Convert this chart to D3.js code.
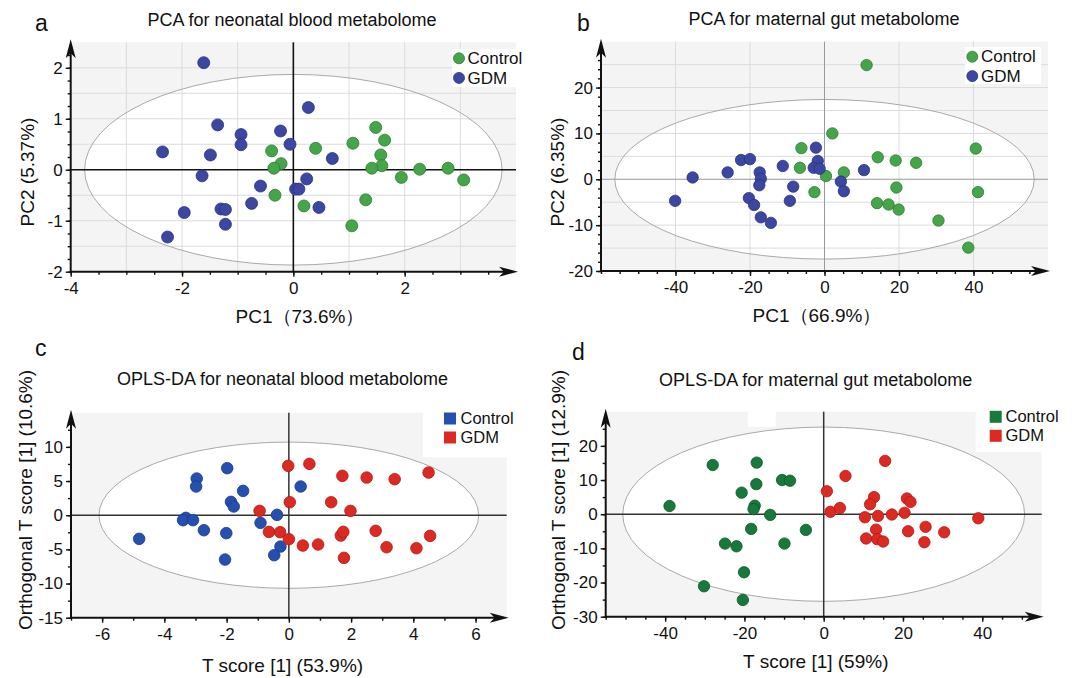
<!DOCTYPE html>
<html><head><meta charset="utf-8">
<script src="https://cdn.jsdelivr.net/npm/d3@7"></script>
<style>
body{margin:0;background:#fff;}
svg{display:block;}
text{font-family:"Liberation Sans",Arial,Helvetica,sans-serif;fill:#111;}
</style>
</head><body>
<svg id="chart" width="1075" height="678"></svg>
<script>
// ---------- DATA ----------
// Panel a: PCA for neonatal blood metabolome  [PC1, PC2]
const pcaBloodControl = [[-0.39,0.37],[-0.22,0.12],[-0.35,0.03],[0.40,0.42],[-0.33,-0.50],[0.19,-0.71],[1.07,0.52],[1.48,0.83],[1.64,0.58],[1.57,0.29],[1.59,0.08],[1.41,0.03],[1.94,-0.15],[2.27,0.01],[2.78,0.03],[3.06,-0.20],[1.30,-0.59],[1.05,-1.10]];
const pcaBloodGDM = [[-1.61,2.10],[0.27,1.22],[-1.36,0.88],[-0.94,0.69],[-0.94,0.49],[-0.23,0.76],[-0.06,0.50],[-2.35,0.35],[-1.49,0.29],[0.70,0.22],[-1.64,-0.12],[-0.59,-0.32],[0.24,-0.18],[0.04,-0.38],[0.10,-0.38],[-0.75,-0.66],[-1.30,-0.77],[-1.22,-0.78],[0.46,-0.74],[-1.96,-0.84],[-1.22,-1.07],[-2.26,-1.32]];
// Panel b: PCA for maternal gut metabolome
const pcaGutControl = [[11.3,24.9],[2.1,10.0],[-6.2,6.8],[-6.6,2.5],[0.4,0.7],[5.2,1.5],[-2.7,-2.8],[14.3,4.8],[19.1,4.1],[24.6,3.6],[40.6,6.7],[41.2,-2.8],[19.3,-1.8],[14.1,-5.2],[17.2,-5.5],[19.9,-6.6],[30.6,-9.0],[38.6,-14.9]];
const pcaGutGDM = [[-2.3,6.9],[-1.8,4.0],[-2.9,2.5],[-1.3,2.3],[-11.2,2.9],[-22.4,4.2],[-20.0,4.4],[-26.0,1.5],[-35.4,0.4],[-17.4,1.5],[-17.1,0.1],[-17.5,-1.3],[-8.4,-1.6],[4.4,-0.5],[10.6,2.0],[5.2,-2.6],[-40.1,-4.7],[-20.3,-4.1],[-18.9,-5.6],[-9.3,-4.7],[-17.1,-8.3],[-14.4,-9.5]];
// Panel c: OPLS-DA for neonatal blood metabolome  [T score, Orthogonal T score]
const oplsBloodControl = [[-1.98,6.88],[-2.96,5.37],[-2.98,4.20],[-1.47,3.56],[-1.86,1.95],[-1.77,1.27],[0.38,4.20],[-0.38,0.05],[-3.31,-0.39],[-3.40,-0.73],[-3.08,-0.73],[-2.73,-2.20],[-2.01,-2.63],[-0.91,-1.12],[-4.81,-3.46],[-0.27,-4.59],[-0.47,-5.85],[-2.05,-6.49]];
const oplsBloodGDM = [[-0.02,7.22],[0.66,7.51],[1.72,5.76],[2.50,5.51],[3.40,5.27],[4.49,6.24],[0.03,1.90],[1.36,1.90],[1.98,0.63],[-0.94,0.63],[-0.64,-2.44],[-0.28,-2.49],[0.00,-3.51],[0.45,-4.44],[0.94,-4.29],[1.67,-2.98],[1.75,-2.44],[2.79,-2.29],[3.14,-4.68],[4.10,-4.83],[4.54,-3.02],[1.77,-6.24]];
// Panel d: OPLS-DA for maternal gut metabolome
const oplsGutControl = [[-28.0,14.4],[-16.9,15.1],[-10.5,10.0],[-8.5,9.8],[-17.0,8.8],[-20.7,6.3],[-38.9,2.4],[-17.4,2.5],[-17.7,1.5],[-13.5,-0.2],[-18.3,-4.3],[-4.5,-4.6],[-24.9,-8.6],[-22.0,-9.4],[-9.9,-8.6],[-20.1,-17.0],[-30.2,-21.1],[-20.4,-25.1]];
const oplsGutGDM = [[15.5,15.6],[5.5,11.2],[0.8,6.7],[12.7,5.0],[11.7,2.9],[21.0,4.6],[21.9,3.6],[1.7,0.7],[4.1,1.8],[10.4,-0.9],[13.7,-0.5],[17.2,-0.1],[20.4,0.4],[39.0,-1.2],[25.7,-3.7],[13.2,-4.5],[21.3,-5.0],[30.4,-5.3],[10.7,-7.1],[13.5,-7.3],[15.0,-8.0],[25.4,-8.2]];

// Hotelling T2 ellipse semi-axes [x, y]
const ellipseA = [3.75, 1.87];
const ellipseB = [56.3, 17.4];
const ellipseC = [6.1, 10.7];
const ellipseD = [50.7, 25.5];

// Tick labels
const ticksAX = [-4,-2,0,2],       ticksAY = [-2,-1,0,1,2];
const ticksBX = [-40,-20,0,20,40], ticksBY = [-20,-10,0,10,20];
const ticksCX = [-6,-4,-2,0,2,4,6], ticksCY = [-15,-10,-5,0,5,10];
const ticksDX = [-40,-20,0,20,40], ticksDY = [-30,-20,-10,0,10,20];

// Titles / labels
const titles = ["PCA for neonatal blood metabolome","PCA for maternal gut metabolome","OPLS-DA for neonatal blood metabolome","OPLS-DA for maternal gut metabolome"];
const xTitles = ["PC1（73.6%）","PC1（66.9%）","T score [1] (53.9%)","T score [1] (59%)"];
const yTitles = ["PC2 (5.37%)","PC2 (6.35%)","Orthogonal T score [1] (10.6%)","Orthogonal T score [1] (12.9%)"];
const groups = ["Control","GDM"];

// ---------- STYLE ----------
const COL = {
  green:  {fill:"#45a649", stroke:"#2f7a34"},
  indigo: {fill:"#3b47a0", stroke:"#283482"},
  blue:   {fill:"#2550b0", stroke:"#1a3a86"},
  red:    {fill:"#dc2a22", stroke:"#ad1b16"},
  dgreen: {fill:"#17793a", stroke:"#0e5727"}
};

const svg = d3.select("#chart");

function drawPanel(p){
  const g = svg.append("g");
  const B = p.box;
  const x = d3.scaleLinear().domain(p.xDomain).range([B.l, B.r]);
  const y = d3.scaleLinear().domain(p.yDomain).range([B.b, B.t]);

  // background
  g.append("rect").attr("x",B.l).attr("y",B.t).attr("width",B.r-B.l).attr("height",B.b-B.t).attr("fill","#f4f4f4");
  (p.cutouts||[]).forEach(c=>{
    g.append("rect").attr("x",c[0]).attr("y",c[1]).attr("width",c[2]).attr("height",c[3]).attr("fill","#fff");
  });
  // ellipse fill
  const ecx = x(0), ecy = y(0), erx = x(p.ellipse[0])-x(0), ery = y(0)-y(p.ellipse[1]);
  g.append("ellipse").attr("cx",ecx).attr("cy",ecy).attr("rx",erx).attr("ry",ery).attr("fill","#fff");
  // grid
  (p.gridX||[]).forEach(v=>g.append("line").attr("x1",x(v)).attr("x2",x(v)).attr("y1",B.t).attr("y2",B.b).attr("stroke","#dcdcdc").attr("stroke-width",1));
  (p.gridY||[]).forEach(v=>g.append("line").attr("y1",y(v)).attr("y2",y(v)).attr("x1",B.l).attr("x2",B.r).attr("stroke","#dcdcdc").attr("stroke-width",1));
  // ellipse outline
  g.append("ellipse").attr("cx",ecx).attr("cy",ecy).attr("rx",erx).attr("ry",ery).attr("fill","none").attr("stroke","#a9a9a9").attr("stroke-width",1);
  // zero lines
  g.append("line").attr("x1",x(0)).attr("x2",x(0)).attr("y1",B.t).attr("y2",B.b).attr("stroke",p.zeroColor).attr("stroke-width",p.zeroWidth);
  g.append("line").attr("y1",y(0)).attr("y2",y(0)).attr("x1",B.l).attr("x2",B.r).attr("stroke",p.zeroColor).attr("stroke-width",p.zeroWidth);
  // legend background
  if(p.legendBg){
    g.append("rect").attr("x",p.legendBg[0]).attr("y",p.legendBg[1]).attr("width",p.legendBg[2]).attr("height",p.legendBg[3]).attr("fill","#fff");
  }
  // points
  p.series.forEach(s=>{
    g.append("g").selectAll("circle").data(s.data).join("circle")
      .attr("cx",d=>x(d[0])).attr("cy",d=>y(d[1])).attr("r",p.r)
      .attr("fill",s.col.fill).attr("stroke",s.col.stroke).attr("stroke-width",0.8);
  });

  // axes
  const fmt = d=>String(d);
  const minor = (dom,step)=>{
    const out=[]; let v=Math.ceil(dom[0]/step-1e-9)*step;
    for(; v<dom[1]-1e-9; v+=step) out.push(+v.toFixed(6));
    return out;
  };
  const styleAxis = sel=>{
    sel.select(".domain").remove();
    sel.selectAll("line").attr("stroke","#111").attr("stroke-width",1.4);
    sel.selectAll("text").attr("font-size",p.tickFont).attr("font-family","Liberation Sans, Arial, sans-serif").attr("fill","#111");
    sel.attr("font-size",null).attr("font-family",null);
  };
  g.append("g").attr("transform",`translate(0,${B.b})`)
    .call(d3.axisBottom(x).tickValues(minor(p.xDomain,p.xMinor)).tickSize(3).tickFormat("")).call(styleAxis);
  g.append("g").attr("transform",`translate(0,${B.b})`)
    .call(d3.axisBottom(x).tickValues(p.xTicks).tickSize(5).tickPadding(5).tickFormat(fmt)).call(styleAxis);
  g.append("g").attr("transform",`translate(${B.l},0)`)
    .call(d3.axisLeft(y).tickValues(minor(p.yDomain,p.yMinor)).tickSize(3).tickFormat("")).call(styleAxis);
  g.append("g").attr("transform",`translate(${B.l},0)`)
    .call(d3.axisLeft(y).tickValues(p.yTicks).tickSize(5).tickPadding(3).tickFormat(fmt)).call(styleAxis);

  // axis lines with arrows
  const xTip = B.r + 2, yTip = B.t - 3;
  g.append("line").attr("x1",B.l).attr("x2",xTip-10).attr("y1",B.b).attr("y2",B.b).attr("stroke","#111").attr("stroke-width",2);
  g.append("line").attr("x1",B.l).attr("x2",B.l).attr("y1",B.b+1).attr("y2",yTip+10).attr("stroke","#111").attr("stroke-width",2);
  g.append("path").attr("d",`M${xTip},${B.b} L${xTip-19},${B.b-5} L${xTip-14},${B.b} L${xTip-19},${B.b+5} Z`).attr("fill","#111");
  g.append("path").attr("d",`M${B.l},${yTip} L${B.l-5},${yTip+19} L${B.l},${yTip+14} L${B.l+5},${yTip+19} Z`).attr("fill","#111");

  // legend
  p.series.forEach((s,i)=>{
    const ly = p.legend.y + i*p.legend.dy;
    if(p.legend.shape==="circle"){
      g.append("circle").attr("cx",p.legend.x).attr("cy",ly).attr("r",5.5).attr("fill",s.col.fill).attr("stroke",s.col.stroke).attr("stroke-width",0.8);
    } else {
      g.append("rect").attr("x",p.legend.x-6).attr("y",ly-6).attr("width",12).attr("height",12).attr("fill",s.col.fill);
    }
    g.append("text").attr("x",p.legend.tx).attr("y",ly+p.legend.fs*0.34).attr("font-size",p.legend.fs).text(groups[i]);
  });

  // texts
  g.append("text").attr("x",p.title[0]).attr("y",p.title[1]).attr("text-anchor","middle").attr("font-size",18).text(p.titleText);
  g.append("text").attr("x",p.letter[0]).attr("y",p.letter[1]).attr("font-size",23).text(p.letterText);
  g.append("text").attr("x",p.xt[0]).attr("y",p.xt[1]).attr("text-anchor","middle").attr("font-size",p.axFont).text(p.xtText);
  g.append("text").attr("transform",`translate(${p.yt[0]},${p.yt[1]}) rotate(-90)`).attr("text-anchor","middle").attr("font-size",p.axFont).text(p.ytText);
}

// ---------- PANELS ----------
drawPanel({
  box:{l:70.7,r:516,t:42.3,b:271.7}, xDomain:[-4,4], yDomain:[-2,2.5],
  xTicks:ticksAX, yTicks:ticksAY, xMinor:0.5, yMinor:0.25,
  gridX:[-3,-2,-1,1,2,3], gridY:[-1.5,-1,-0.5,0.5,1,1.5,2],
  ellipse:ellipseA, zeroColor:"#111", zeroWidth:1.6, r:6, tickFont:17, axFont:19,
  series:[{data:pcaBloodControl,col:COL.green},{data:pcaBloodGDM,col:COL.indigo}],
  legend:{shape:"circle",x:459,y:58.3,dy:19.6,tx:467.5,fs:17}, legendBg:[452,49,75,38],
  title:[292,26], titleText:titles[0], letter:[35,31], letterText:"a",
  xt:[300,323], xtText:xTitles[0], yt:[34,172], ytText:yTitles[0]
});
drawPanel({
  box:{l:601,r:1048,t:41.7,b:271}, xDomain:[-60,60], yDomain:[-20,30],
  xTicks:ticksBX, yTicks:ticksBY, xMinor:5, yMinor:2,
  gridX:[-40,-20,20,40], gridY:[-15,-10,-5,5,10,15,20,25],
  ellipse:ellipseB, zeroColor:"#999", zeroWidth:1, r:5.7, tickFont:17, axFont:19,
  series:[{data:pcaGutControl,col:COL.green},{data:pcaGutGDM,col:COL.indigo}],
  legend:{shape:"circle",x:972.3,y:56.7,dy:19.4,tx:981,fs:17},legendBg:[965,47,76,37],
  title:[824,25], titleText:titles[1], letter:[577,31], letterText:"b",
  xt:[817,322], xtText:xTitles[1], yt:[564,172], ytText:yTitles[1]
});
drawPanel({
  box:{l:71,r:506.7,t:412.7,b:617.7}, xDomain:[-7,7], yDomain:[-15,15],
  xTicks:ticksCX, yTicks:ticksCY, xMinor:1, yMinor:2.5,
  cutouts:[[423,412.7,84,44.6]],
  ellipse:ellipseC, zeroColor:"#333", zeroWidth:1.5, r:5.8, tickFont:17, axFont:19,
  series:[{data:oplsBloodControl,col:COL.blue},{data:oplsBloodGDM,col:COL.red}],
  legend:{shape:"square",x:450,y:418.5,dy:19,tx:460.5,fs:16.5},
  title:[282.5,385], titleText:titles[2], letter:[35,356], letterText:"c",
  xt:[282.5,671.5], xtText:xTitles[2], yt:[32,500], ytText:yTitles[2]
});
drawPanel({
  box:{l:605.7,r:1041.7,t:411.7,b:616.7}, xDomain:[-55,55], yDomain:[-30,30],
  xTicks:ticksDX, yTicks:ticksDY, xMinor:5, yMinor:5,
  cutouts:[[747.7,411.7,28,15],[975.7,411.7,66,40]],
  ellipse:ellipseD, zeroColor:"#333", zeroWidth:1.5, r:5.7, tickFont:17, axFont:19,
  series:[{data:oplsGutControl,col:COL.dgreen},{data:oplsGutGDM,col:COL.red}],
  legend:{shape:"square",x:995.7,y:416.8,dy:19,tx:1005.5,fs:16.5},
  title:[815.7,386], titleText:titles[3], letter:[572,360], letterText:"d",
  xt:[815.8,668], xtText:xTitles[3], yt:[565,500], ytText:yTitles[3]
});
</script>
</body></html>
